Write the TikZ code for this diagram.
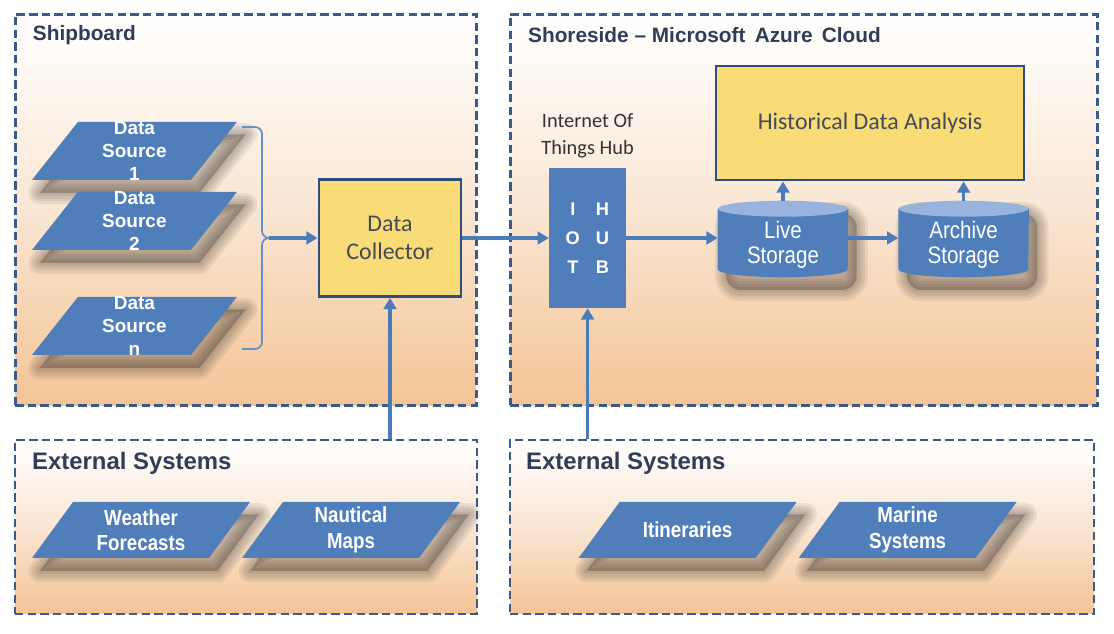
\documentclass[tikz,border=0pt]{standalone}
\usepackage{fontspec}
\setmainfont{Liberation Sans}
\newfontfamily\calfont{Carlito}
\newfontfamily\narrowfont[FakeStretch=0.86]{Liberation Sans}
\usetikzlibrary{arrows.meta, positioning, shapes.geometric}
\pgfdeclarelayer{background}
\pgfdeclarelayer{shadow}
\pgfsetlayers{background,shadow,main}
\definecolor{panelborder}{HTML}{3A5A8A}
\definecolor{panelbottom}{HTML}{F4C496}
\definecolor{panelmid}{HTML}{FAE6D3}
\definecolor{shapefill}{HTML}{4F7EBB}
\definecolor{shapetop}{HTML}{98B4DD}
\definecolor{boxfill}{HTML}{F9DC77}
\definecolor{boxborder}{HTML}{2E4E7E}
\definecolor{titletext}{HTML}{2F3D57}
\definecolor{boxtext}{HTML}{434B58}
\definecolor{flowblue}{HTML}{4A7CBA}
\definecolor{shadowgray}{HTML}{3A3028}
\newcommand\hubrow[2]{\makebox[21pt]{#1}\makebox[21pt]{#2}}
% soft shadow under a parallelogram node
\newcommand\slantshadow[1]{%
  \foreach \w in {16,12,8,4}{%
    \filldraw[shadowgray, opacity=0.085, line width=\w pt, line join=round,
      transform canvas={xshift=6pt, yshift=-9pt}]
      (#1.bottom left corner) -- (#1.top left corner) -- (#1.top right corner) -- (#1.bottom right corner) -- cycle;}}
% soft shadow under a storage node
\newcommand\storeshadow[1]{%
  \foreach \w in {16,12,8,4}{%
    \filldraw[shadowgray, opacity=0.085, line width=\w pt, rounded corners=10pt,
      transform canvas={xshift=6pt, yshift=-9pt}]
      (#1.south west) rectangle (#1.north east);}}
% drum drawn inside a storage node
\newcommand\storebody[1]{%
  \fill[shapefill] ([yshift=-0.2cm]#1.north west) -- ([yshift=0.2cm]#1.south west)
    arc[start angle=180, end angle=360, x radius=1.625cm, y radius=0.2cm]
    -- ([yshift=-0.2cm]#1.north east) -- cycle;
  \fill[shapetop] ([yshift=-0.2cm]#1.north) ellipse[x radius=1.625cm, y radius=0.2cm];}
\tikzset{
  panel/.style={rectangle, draw=panelborder, line width=2.1pt, dash pattern=on 6pt off 3pt,
    top color=white, bottom color=panelbottom, middle color=panelmid},
  panel-title/.style={anchor=west, font=\bfseries\fontsize{14.8}{17}\selectfont, text=titletext},
  ext-title/.style={anchor=west, font=\bfseries\fontsize{17}{20}\selectfont, text=titletext},
  source/.style={trapezium, trapezium left angle=51.6, trapezium right angle=128.4,
    fill=shapefill, text width=2.825cm, text height=1.45cm, text depth=0pt, inner sep=0pt},
  srctext/.style={align=center, text=white, font=\bfseries\fontsize{13.5}{16.5}\selectfont},
  sysbox/.style={trapezium, trapezium left angle=53.8, trapezium right angle=126.2,
    fill=shapefill, text width=3.4cm, text height=1.4cm, text depth=0pt, inner sep=0pt},
  systext/.style={align=center, text=white, font=\narrowfont\bfseries\fontsize{15.5}{18}\selectfont},
  yellowbox/.style={rectangle, fill=boxfill, draw=boxborder, line width=2pt, align=center,
    text=boxtext, font=\calfont\fontsize{17}{20.5}\selectfont},
  hub/.style={rectangle, fill=shapefill, minimum width=1.925cm, minimum height=3.5cm, align=center,
    text=white, font=\bfseries\fontsize{13}{20.6}\selectfont},
  hub-label/.style={align=center, text=black!80, font=\calfont\fontsize{14.5}{19}\selectfont},
  store/.style={rectangle, minimum width=3.25cm, minimum height=1.9cm, inner sep=0pt},
  storetext/.style={align=center, text=white, yshift=-4pt, font=\narrowfont\fontsize{17}{18}\selectfont},
  flow/.style={-{Triangle[length=8pt, width=9pt]}, line width=2.2pt, draw=flowblue},
  bracket/.style={line width=1.2pt, draw=flowblue!85!white, rounded corners=5pt}
}
\begin{document}
\begin{tikzpicture}
\useasboundingbox (0,0) rectangle (27.85,15.85);

% panels
\begin{pgfonlayer}{background}
\node[panel, minimum width=11.525cm, minimum height=9.775cm] (ship) at (6.14,10.61) {};
\node[panel, minimum width=14.675cm, minimum height=9.775cm] (shore) at (20.09,10.61) {};
\node[panel, minimum width=11.55cm, minimum height=4.35cm] (extL) at (6.15,2.675) {};
\node[panel, minimum width=14.6cm, minimum height=4.35cm] (extR) at (20.05,2.675) {};
\end{pgfonlayer}

\node[panel-title] (shiptitle) at (0.7,14.975) {Shipboard};
\node[panel-title] (shoretitle) at (13.08,14.975) {Shoreside -- Microsoft\, Azure\, Cloud};
\node[ext-title] (extLtitle) at (0.68,4.275) {External Systems};
\node[ext-title] (extRtitle) at (13.03,4.275) {External Systems};

% shipboard
\node[source, label={[srctext]center:{Data\\Source\\1}}] (ds1) at (3.36,12.075) {};
\node[source, label={[srctext]center:{Data\\Source\\2}}] (ds2) at (3.36,10.325) {};
\node[source, label={[srctext]center:{Data\\Source\\n}}] (dsn) at (3.36,7.7) {};

\coordinate (btip) at (6.72,9.9);
\draw[bracket] (6.05,12.675) -- (6.55,12.675) -- (6.55,9.9) -- (btip);
\draw[bracket] (6.05,7.125) -- (6.55,7.125) -- (6.55,9.9) -- (btip);

\node[yellowbox, minimum width=3.55cm, minimum height=2.925cm] (dc) at (9.75,9.9) {Data\\Collector};

% shoreside
\node[hub] (hub) at (14.69,9.9) {\hubrow{I}{H}\\\hubrow{O}{U}\\\hubrow{T}{B}};
\node[hub-label, above=0.12cm of hub] (hublabel) {Internet Of\\Things Hub};
\node[yellowbox, minimum width=7.7cm, minimum height=2.85cm] (hda) at (21.75,12.775) {Historical Data Analysis};
\node[store, label={[storetext]center:{Live\\Storage}}] (live) at (19.575,9.875) {};
\node[store, label={[storetext]center:{Archive\\Storage}}] (archive) at (24.09,9.875) {};

% external systems
\node[sysbox, label={[systext]center:{Weather\\Forecasts}}] (weather) at (3.525,2.6) {};
\node[sysbox, label={[systext]center:{Nautical\\Maps}}] (maps) at (8.775,2.6) {};
\node[sysbox, label={[systext]center:{Itineraries}}] (itin) at (17.19,2.6) {};
\node[sysbox, label={[systext]center:{Marine\\Systems}}] (marine) at (22.69,2.6) {};

\begin{pgfonlayer}{shadow}
\foreach \n in {ds1,ds2,dsn,weather,maps,itin,marine} {\slantshadow{\n}}
\storeshadow{live}
\storeshadow{archive}
\storebody{live}
\storebody{archive}
\end{pgfonlayer}

\draw[flow] (btip) -- (dc.west);
\draw[flow] (dc.east) -- (hub.west);
\draw[flow] (hub.east) -- (hub.east -| live.west);
\draw[flow] (live.east |- hub.east) -- (archive.west |- hub.east);
\draw[flow] (live.north) -- (live.north |- hda.south);
\draw[flow] (archive.north) -- (archive.north |- hda.south);
\draw[flow] (dc.south |- extL.north) -- (dc.south);
\draw[flow] (hub.south |- extR.north) -- (hub.south);

\end{tikzpicture}
\end{document}
